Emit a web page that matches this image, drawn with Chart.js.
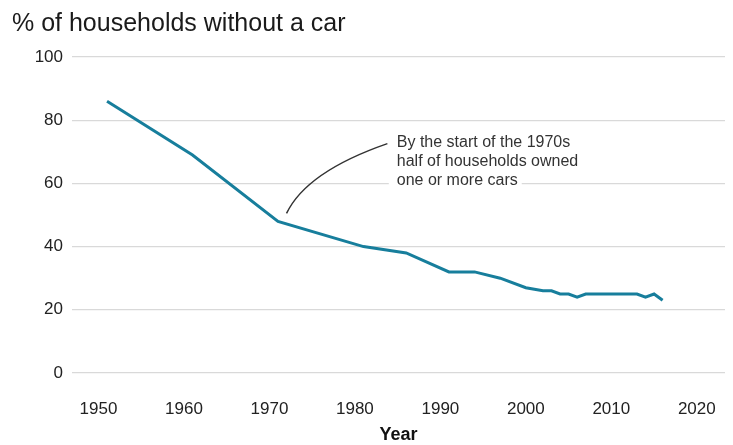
<!DOCTYPE html>
<html>
<head>
<meta charset="utf-8">
<script src="https://cdn.jsdelivr.net/npm/chart.js@4.4.1/dist/chart.umd.min.js"></script>
<style>
  html, body { margin: 0; padding: 0; background: #fff; }
  #wrap { width: 733px; height: 445px; position: relative; }
</style>
</head>
<body>
<div id="wrap"><canvas id="cars"></canvas></div>
<script>
// households without a car, by survey year
var years  = [1951, 1961, 1971, 1981, 1986, 1991, 1994, 1997, 2000, 2002, 2003, 2004, 2005, 2006, 2007, 2008, 2009, 2010, 2011, 2012, 2013, 2014, 2015, 2016];
var noCar  = [86, 69, 48, 40, 38, 32, 32, 30, 27, 26, 26, 25, 25, 24, 25, 25, 25, 25, 25, 25, 25, 24, 25, 23];
var xTicks = [1950, 1960, 1970, 1980, 1990, 2000, 2010, 2020];
var yTicks = [0, 20, 40, 60, 80, 100];
var note   = ['By the start of the 1970s', 'half of households owned', 'one or more cars'];

var FONT = '"Liberation Sans", Arial, Helvetica, sans-serif';

var points = years.map(function (y, i) { return { x: y, y: noCar[i] }; });

// title + callout text, drawn on top of the plot
var extras = {
  id: 'extras',
  afterDraw: function (chart) {
    var ctx = chart.ctx;
    var xs = chart.scales.x, ys = chart.scales.y;
    ctx.save();

    ctx.fillStyle = '#1a1a1a';
    ctx.font = '25px ' + FONT;
    ctx.textBaseline = 'alphabetic';
    ctx.textAlign = 'left';
    ctx.fillText('% of households without a car', 12, 31);

    // leader line from the 1970s kink up to the note
    var sx = xs.getPixelForValue(1972), sy = ys.getPixelForValue(50.5);
    var ex = xs.getPixelForValue(1983.8), ey = ys.getPixelForValue(72.6);
    ctx.strokeStyle = '#333';
    ctx.lineWidth = 1.5;
    ctx.beginPath();
    ctx.moveTo(sx, sy);
    ctx.quadraticCurveTo(sx + 20, ey + 28, ex, ey);
    ctx.stroke();

    var tx = xs.getPixelForValue(1984.9);
    var ty = ys.getPixelForValue(72.9);
    ctx.font = '16px ' + FONT;
    ctx.textBaseline = 'middle';
    note.forEach(function (line, i) {
      var w = ctx.measureText(line).width;
      ctx.fillStyle = '#fff';
      ctx.fillRect(tx - 8, ty + i * 19 - 9.5, w + 12, 19);
      ctx.fillStyle = '#333';
      ctx.fillText(line, tx, ty + i * 19);
    });
    ctx.restore();
  }
};

new Chart(document.getElementById('cars'), {
  type: 'line',
  data: {
    datasets: [{
      data: points,
      borderColor: '#177e9c',
      borderWidth: 3,
      pointRadius: 0,
      tension: 0,
      fill: false
    }]
  },
  options: {
    responsive: true,
    maintainAspectRatio: false,
    animation: false,
    layout: { padding: { top: 57, right: 8, left: 0, bottom: 0 } },
    plugins: { legend: { display: false }, tooltip: { enabled: false } },
    scales: {
      x: {
        type: 'linear',
        min: 1946.9,
        max: 2023.3,
        afterBuildTicks: function (s) { s.ticks = xTicks.map(function (v) { return { value: v }; }); },
        afterFit: function (s) { s.height = 72; s.paddingLeft = 0; s.paddingRight = 0; },
        grid: { display: false, drawTicks: false },
        border: { display: false },
        ticks: {
          color: '#222', font: { family: FONT, size: 17 }, padding: 26, maxRotation: 0,
          callback: function (v) { return String(v); }
        },
        title: {
          display: true, text: 'Year', color: '#111',
          font: { family: FONT, size: 18, weight: 'bold', lineHeight: 1 },
          padding: { top: 0, bottom: 1 }
        }
      },
      y: {
        min: 0,
        max: 100,
        afterBuildTicks: function (s) { s.ticks = yTicks.map(function (v) { return { value: v }; }); },
        afterFit: function (s) { s.width = 72; },
        grid: { color: '#d9d9d9', lineWidth: 1.2, drawTicks: false },
        border: { display: false },
        ticks: { color: '#222', font: { family: FONT, size: 17 }, padding: 9 }
      }
    }
  },
  plugins: [extras]
});
</script>
</body>
</html>
